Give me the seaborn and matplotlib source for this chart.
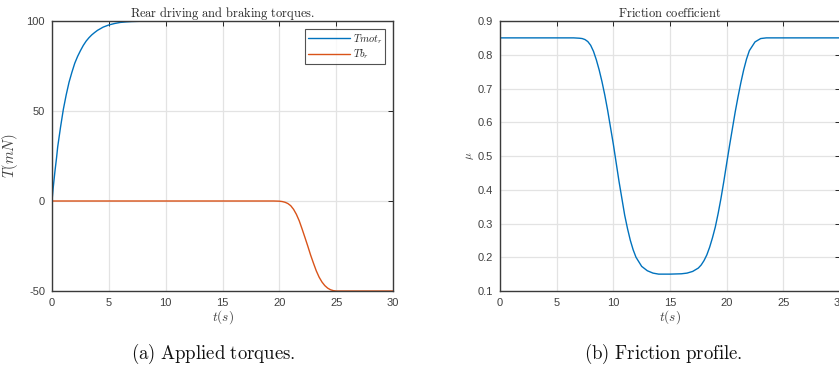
import matplotlib
matplotlib.use("Agg")
import matplotlib.pyplot as plt
import seaborn as sns
import pandas as pd
import numpy as np

# ---- data ----
t_mot = [0, 0.1, 0.25, 0.4, 0.5, 0.75, 1.0, 1.25, 1.5, 1.75, 2.0, 2.25, 2.5, 2.75, 3.0, 3.25, 3.5, 3.75, 4.0, 4.5, 5.0, 5.5, 6.0, 6.5, 7.0, 8.0, 10.0, 30.0]
tmot_r = [0, 7, 16, 24, 30, 41, 51, 59, 66, 71.5, 76.5, 80.3, 83.5, 86.4, 88.8, 90.7, 92.3, 93.6, 94.8, 96.6, 97.8, 98.6, 99.2, 99.5, 99.7, 99.9, 100, 100]

t_b = [0, 19.5, 20.0, 20.25, 20.5, 20.75, 21.0, 21.25, 21.5, 21.75, 22.0, 22.25, 22.5, 22.75, 23.0, 23.25, 23.5, 23.75, 24.0, 24.25, 24.5, 24.75, 25.0, 30.0]
tb_r = [0, 0, -0.1, -0.3, -0.7, -1.4, -2.6, -4.6, -7.4, -11.0, -15.5, -20.2, -25, -30.0, -34.5, -38.8, -42.3, -45.0, -47.0, -48.4, -49.3, -49.8, -50, -50]

t_mu = [0, 6.5, 7.0, 7.25, 7.5, 7.75, 8.0, 8.25, 8.5, 8.75, 9.0, 9.25, 9.5, 9.75, 10.0, 10.25, 10.5, 10.75, 11.0, 11.25, 11.5, 11.75,
        12.0, 12.5, 13.0, 13.5, 14.0, 15.0, 16.0, 16.5, 17.0, 17.5, 17.75, 18.0, 18.25, 18.5, 18.75, 19.0, 19.25, 19.5, 19.75,
        20.0, 20.25, 20.5, 20.75, 21.0, 21.25, 21.5, 21.75, 22.0, 22.5, 23.0, 23.5, 30.0]
mu = [0.85, 0.85, 0.849, 0.848, 0.845, 0.839, 0.828, 0.81, 0.785, 0.755, 0.72, 0.68, 0.635, 0.585, 0.535, 0.48, 0.425, 0.375, 0.325, 0.285, 0.25, 0.222,
      0.2, 0.173, 0.16, 0.153, 0.15, 0.15, 0.151, 0.153, 0.158, 0.168, 0.177, 0.19, 0.207, 0.23, 0.258, 0.29, 0.33, 0.375, 0.425,
      0.478, 0.53, 0.58, 0.63, 0.675, 0.717, 0.755, 0.787, 0.812, 0.838, 0.848, 0.85, 0.85]

xticks = [0, 5, 10, 15, 20, 25, 30]
yticks_left = [-50, 0, 50, 100]
yticks_right = [0.1, 0.2, 0.3, 0.4, 0.5, 0.6, 0.7, 0.8, 0.9]

sns.set_theme(style="white")
plt.rcParams['font.family'] = ['Liberation Sans', 'DejaVu Sans']
plt.rcParams['mathtext.fontset'] = 'cm'
plt.rcParams['axes.unicode_minus'] = False

BLUE = '#0072BD'
ORANGE = '#D95319'
TICKC = '#404040'
GRIDC = '#e3e3e3'

fig = plt.figure(figsize=(8.39, 3.75), dpi=100)
axL = fig.add_axes([52/839, 1-291/375, 341/839, 270/375])
axR = fig.add_axes([500/839, 1-291/375, 340/839, 270/375])

def style(ax):
    ax.set_facecolor('white')
    ax.grid(True, color=GRIDC, linewidth=0.9)
    ax.set_axisbelow(True)
    for s in ax.spines.values():
        s.set_visible(True)
        s.set_color('#3a3a3a')
        s.set_linewidth(1.0)
    ax.tick_params(direction='in', top=True, right=True, length=3.5, width=0.7,
                   colors='#262626', labelcolor=TICKC, labelsize=8, pad=5)

df_mot = pd.DataFrame({'t': t_mot, 'v': tmot_r})
df_b = pd.DataFrame({'t': t_b, 'v': tb_r})
df_mu = pd.DataFrame({'t': t_mu, 'v': mu})

sns.lineplot(data=df_mot, x='t', y='v', ax=axL, color=BLUE, linewidth=1.0, label=r'$Tmot_r$', estimator=None)
sns.lineplot(data=df_b, x='t', y='v', ax=axL, color=ORANGE, linewidth=1.0, label=r'$Tb_r$', estimator=None)
axL.set_xlim(0, 30)
axL.set_ylim(-50, 100)
axL.set_xticks(xticks)
axL.set_yticks(yticks_left)
style(axL)
axL.set_xlabel(r'$t(s)$', fontsize=9.5, labelpad=0.5, color=TICKC)
axL.set_ylabel(r'$T(mN)$', fontsize=10.5, labelpad=5, color=TICKC)
axL.set_title(r'$\mathrm{Rear\ driving\ and\ braking\ torques.}$', fontsize=9, pad=3, color='#262626')
leg = axL.legend(loc='upper right', fontsize=7.5, frameon=True, fancybox=False, handlelength=4.0,
                 borderpad=0.25, labelspacing=0.15, handletextpad=0.3, borderaxespad=0.8)
leg.get_frame().set_edgecolor('#262626')
leg.get_frame().set_linewidth(0.8)

sns.lineplot(data=df_mu, x='t', y='v', ax=axR, color=BLUE, linewidth=1.0, estimator=None)
axR.set_xlim(0, 30)
axR.set_ylim(0.1, 0.9)
axR.set_xticks(xticks)
axR.set_yticks(yticks_right)
style(axR)
axR.set_xlabel(r'$t(s)$', fontsize=9.5, labelpad=0.5, color=TICKC)
axR.set_ylabel(r'$\mu$', fontsize=8, labelpad=1, color=TICKC)
axR.set_title(r'$\mathrm{Friction\ coefficient}$', fontsize=9, pad=3, color='#262626')

fig.text(213/839, 1-354/375, r'$\mathrm{(a)\ Applied\ torques.}$', ha='center', va='center', fontsize=13.5, color='#111111')
fig.text(663/839, 1-354/375, r'$\mathrm{(b)\ Friction\ profile.}$', ha='center', va='center', fontsize=13.5, color='#111111')

fig.savefig('out.png', dpi=100)
